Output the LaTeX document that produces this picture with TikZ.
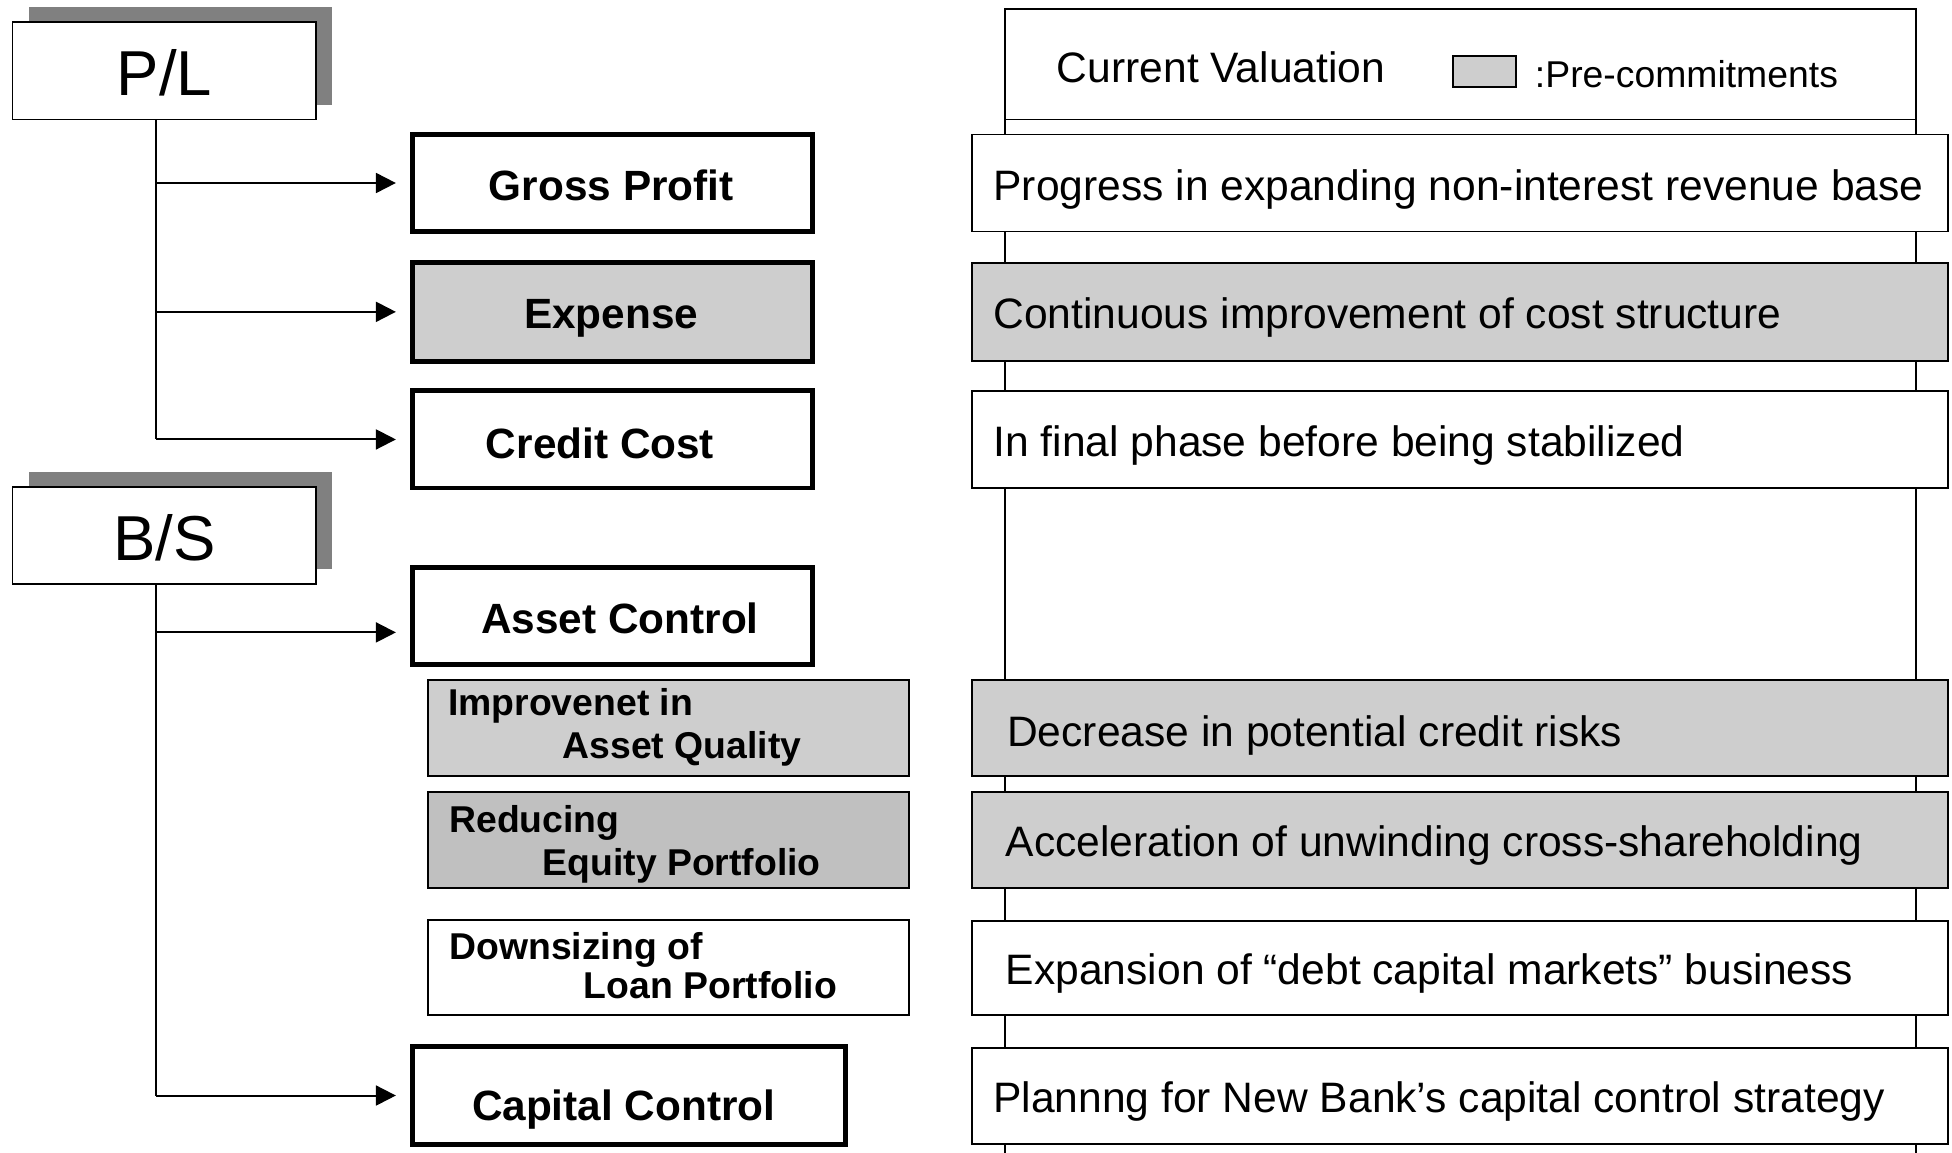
\documentclass[tikz,border=0pt]{standalone}
\usepackage{fontspec}
\setmainfont{Liberation Sans}
\usetikzlibrary{arrows.meta,shadows}
\definecolor{boxgray}{HTML}{CECECE}
\definecolor{boxdark}{HTML}{C0C0C0}
\definecolor{shadowgray}{HTML}{808080}
\begin{document}
\begin{tikzpicture}[x=0.5pt,y=-0.5pt,
  every node/.style={inner sep=0pt,outer sep=0pt},
  frame/.style={draw,rectangle,line width=0.75pt},
  head/.style={frame,fill=white,minimum width=122pt,minimum height=39pt,
    drop shadow={shadow xshift=6.5pt,shadow yshift=6pt,fill=shadowgray,opacity=1}},
  keybox/.style={draw,rectangle,line width=2pt,fill=white,minimum height=39pt},
  subbox/.style={frame,minimum width=193pt},
  rowbox/.style={frame,fill=white,minimum width=392pt},
  bigtext/.style={font=\fontsize{25.5pt}{30pt}\selectfont,anchor=base},
  keytext/.style={font=\fontsize{17pt}{20pt}\selectfont\bfseries,anchor=base},
  subtext/.style={font=\fontsize{15pt}{18pt}\selectfont\bfseries,anchor=base west},
  rowtext/.style={font=\fontsize{17.1pt}{20pt}\selectfont,anchor=base west},
  arr/.style={-{Triangle[length=8pt,width=8pt]},line width=0.8pt},
  trunk/.style={line width=0.8pt}]

\useasboundingbox (0,0) rectangle (1568,926);
\coordinate (floor) at (0,940);

% ---------- statement headers ----------
\node[head] (pl) at (132,57) {};
\node[bigtext] (pltext) at (132,77) {P/L};
\node[head] (bs) at (132,430) {};
\node[bigtext] (bstext) at (132,450) {B/S};

% ---------- key items ----------
\node[keybox,minimum width=161pt] (gp) at (492,147) {};
\node[keytext] (gptext) at (491,161) {Gross Profit};
\node[keybox,fill=boxgray,minimum width=161pt,minimum height=39.5pt] (ex) at (492,250.5) {};
\node[keytext] (extext) at (491,264) {Expense};
\node[keybox,minimum width=161pt] (cc) at (492,353) {};
\node[keytext] (cctext) at (482,368) {Credit Cost};
\node[keybox,minimum width=161pt] (ac) at (492,495) {};
\node[keytext] (actext) at (498,509) {Asset Control};
\node[keybox,minimum width=174pt] (cap) at (505,880) {};
\node[keytext] (captext) at (501,900) {Capital Control};

% ---------- asset control sub-items ----------
\node[subbox,fill=boxgray,minimum height=38.5pt] (iq) at (537,584.5) {};
\node[subtext] (iqa) at (360,575) {Improvenet in};
\node[subtext] (iqb) at (452,609) {Asset Quality};
\node[subbox,fill=boxdark,minimum height=38.5pt] (re) at (537,674.5) {};
\node[subtext] (rea) at (361,669) {Reducing};
\node[subtext] (reb) at (436,703) {Equity Portfolio};
\node[subbox,fill=white,minimum height=38pt] (dl) at (537,777) {};
\node[subtext] (dla) at (361,771) {Downsizing of};
\node[subtext] (dlb) at (469,802) {Loan Portfolio};

% ---------- connectors ----------
\coordinate (pltrunk) at ([xshift=-3.5pt]pl.south);
\coordinate (bstrunk) at ([xshift=-3.5pt]bs.south);
\coordinate (acin) at ([xshift=-6.5pt,yshift=-6.5pt]ac.west);
\draw[trunk] (pltrunk) -- (pltrunk |- cc.west);
\draw[arr] (pltrunk |- gp.west) -- ([xshift=-6.5pt]gp.west);
\draw[arr] (pltrunk |- ex.west) -- ([xshift=-6.5pt]ex.west);
\draw[arr] (pltrunk |- cc.west) -- ([xshift=-6.5pt]cc.west);
\draw[trunk] (bstrunk) -- (bstrunk |- cap.west);
\draw[arr] (bstrunk |- acin) -- (acin);
\draw[arr] (bstrunk |- cap.west) -- ([xshift=-6.5pt]cap.west);

% ---------- valuation column ----------
\node[frame,fill=white,minimum width=366pt,minimum height=44.5pt] (hdr) at (1173,51.5) {};
\draw[line width=0.75pt] (hdr.north west) -- (hdr.north west |- floor);
\draw[line width=0.75pt] (hdr.north east) -- (hdr.north east |- floor);
\node[rowtext] (hdrtext) at (849,66) {Current Valuation};
\node[frame,fill=boxgray,minimum width=25.5pt,minimum height=12.5pt] (swatch) at (1192.5,57.5) {};
\node[font=\fontsize{15pt}{18pt}\selectfont,anchor=base west] (legend) at (1233,70) {:Pre-commitments};

\node[rowbox,minimum height=39pt] (r1) at (1173,147) {};
\node[rowtext] (r1t) at (798,161) {Progress in expanding non-interest revenue base};
\node[rowbox,fill=boxgray,minimum height=39.5pt] (r2) at (1173,250.5) {};
\node[rowtext] (r2t) at (798,264) {Continuous improvement of cost structure};
\node[rowbox,minimum height=39pt] (r3) at (1173,353) {};
\node[rowtext] (r3t) at (798,367) {In final phase before being stabilized};
\node[rowbox,fill=boxgray,minimum height=38.5pt] (r4) at (1173,584.5) {};
\node[rowtext] (r4t) at (809,600) {Decrease in potential credit risks};
\node[rowbox,fill=boxgray,minimum height=38.5pt] (r5) at (1173,674.5) {};
\node[rowtext] (r5t) at (808,688) {Acceleration of unwinding cross-shareholding};
\node[rowbox,minimum height=37.5pt] (r6) at (1173,777.5) {};
\node[rowtext] (r6t) at (808,791) {Expansion of “debt capital markets” business};
\node[rowbox,minimum height=38.5pt] (r7) at (1173,880.5) {};
\node[rowtext] (r7t) at (798,894) {Plannng for New Bank’s capital control strategy};
\end{tikzpicture}
\end{document}
